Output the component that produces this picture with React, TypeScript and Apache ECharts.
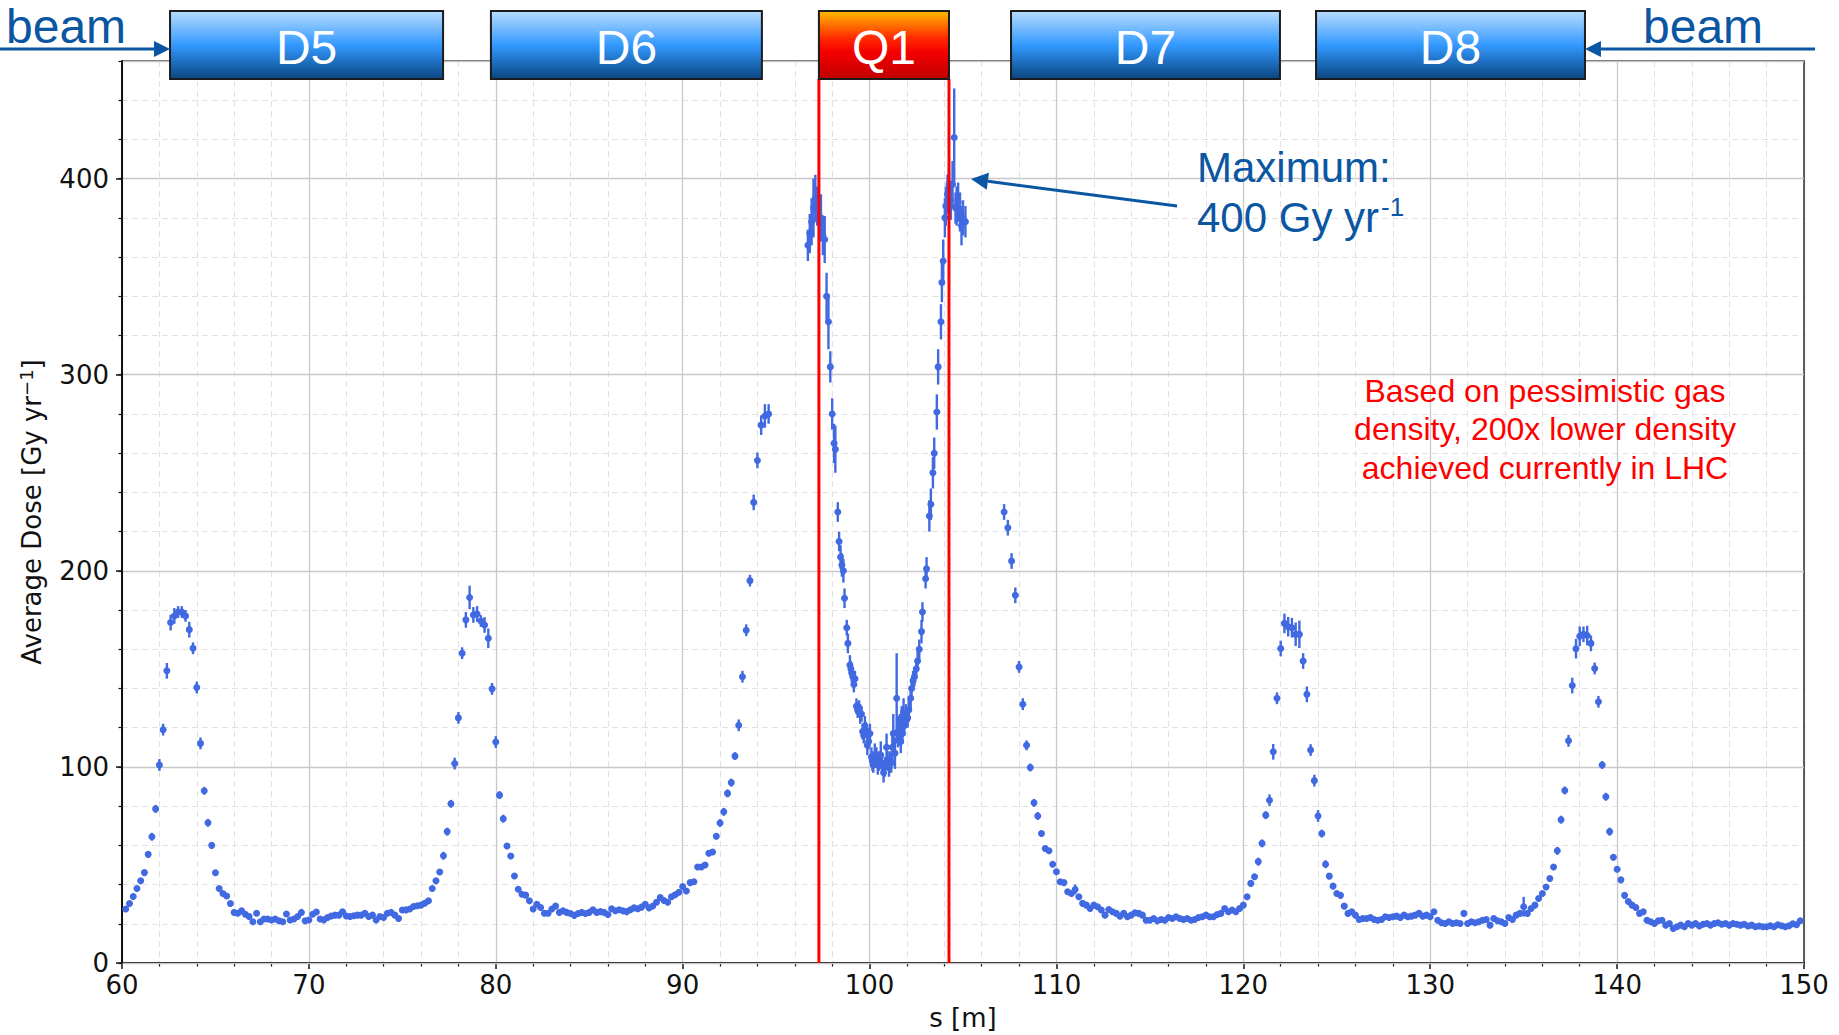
import React, { useEffect, useRef } from 'react';
import * as echarts from 'echarts';

const W = 1839;
const H = 1035;

// ---------- axes ----------
const X_MIN = 60;
const X_MAX = 150;
const X_INTERVAL = 10;
const Y_MIN = 0;
const Y_MAX = 460;
const Y_INTERVAL = 100;
const Y_MINOR_INTERVAL = 20;

// ---------- data: dose per 0.2 m bin, upstream of Q1 (s = 60.2 ... 94.6) ----------
const BIN_STEP = 0.2;
const upstreamStart = 60.2;
const upstreamDose = [
  27.5, 30.3, 33.9, 38, 41.9, 46.1, 55.4, 64.4, 78.6, 101,
  119, 149, 173.6, 177, 179, 179, 177, 170, 160.5, 140.5,
  112, 87.8, 71.5, 60, 46, 38, 35.4, 34.2, 30.3, 25.8,
  25.4, 26.6, 24.9, 23.7, 21, 25.4, 21, 22.4, 22.4, 21.9,
  22.4, 21.5, 21, 25, 21.9, 22.4, 23.7, 25.8, 21.5, 21.9,
  24.9, 26, 22.4, 22, 23.2, 24, 24.4, 24.4, 26.1, 24,
  23.7, 24.1, 24.4, 24.4, 25.4, 23.7, 24.4, 21.9, 23.7, 23.2,
  25.4, 25.8, 24.4, 22.7, 27, 27.1, 27.5, 28.8, 29.2, 29.5,
  30.5, 31.7, 38, 41.9, 46.4, 54.7, 67, 81.2, 101.7, 125,
  158, 175, 186.4, 177.5, 178, 174.4, 172.4, 165.6, 139.8, 112.7,
  85.6, 73.6, 59.7, 54.6, 44.4, 37.6, 35.1, 34.6, 31.7, 27.5,
  30, 28.3, 25.4, 25.4, 27.5, 29, 25.8, 26.6, 25.8, 25.2,
  24.3, 25.2, 25.8, 25.2, 25.8, 27.2, 25.8, 26.2, 25.8, 24.7,
  27.7, 26.6, 27.2, 26.6, 26.2, 27.2, 28.1, 27.7, 28.5, 30,
  28.1, 29.1, 31, 33.4, 31.9, 31, 33.8, 34.8, 36.1, 39,
  36.7, 41, 41.4, 49, 49, 50, 56, 56.6, 64.6, 71.4,
  77.1, 86.5, 92, 105.5, 121.2, 146, 169.7, 195, 234.9, 256.3,
  274.3, 279, 280,
];
const upstreamErr = [
  1, 1, 1, 1, 1, 1, 1.5, 2, 2, 3,
  3, 4, 4, 4, 3, 3, 3, 4, 3, 3,
  3, 2, 2, 1.5, 1.5, 1, 1, 1, 1, 1,
  1, 1, 1, 1, 1, 1, 1, 1, 1, 1,
  1, 1, 1, 1.5, 1, 1, 1, 1.5, 1, 1,
  1, 1, 1, 1, 1, 1, 1, 1, 1, 1,
  1, 1, 1, 1, 1, 1, 1, 1, 1, 1,
  1, 1, 1, 1, 1, 1, 1, 1, 1, 1,
  1, 1, 1, 1.5, 1.5, 2, 2, 2, 3, 3,
  3, 4, 6, 4, 4, 3, 4, 5, 3, 3,
  2, 2, 1.5, 1.5, 1, 1, 1, 1, 1, 1,
  1, 1, 1, 1, 1, 1, 1, 1, 1, 1,
  1, 1, 1, 1, 1, 1, 1, 1, 1, 1,
  1, 1, 1, 1, 1, 1, 1, 1, 1, 1,
  1, 1, 1, 1, 1, 1, 1, 1, 1, 1,
  1, 1, 1, 1.5, 1.5, 1.5, 1.5, 1.5, 1.5, 2,
  2, 2, 2, 2, 3, 3, 3, 3, 4, 4,
  5, 6, 5,
];

// ---------- data: inside Q1 (finer sampling) ----------
const q1S = [
  96.7, 96.8, 96.9, 97.0, 97.1, 97.2, 97.3, 97.4, 97.5, 97.6, 97.7, 97.8, 97.9, 98.0, 98.1, 98.17,
  98.3, 98.37, 98.45, 98.52, 98.6, 98.66, 98.78, 98.84, 98.95, 99.0, 99.05, 99.1, 99.16, 99.22,
  99.3, 99.36, 99.44, 99.5, 99.57, 99.63, 99.69, 99.75, 99.8, 99.88, 99.95, 100.02,
  100.1, 100.15, 100.2, 100.28, 100.37, 100.44, 100.5, 100.6, 100.66, 100.75, 100.82, 100.91, 100.97, 101.04,
  101.1, 101.16, 101.22, 101.27, 101.36, 101.45, 101.52, 101.57, 101.62, 101.67, 101.72, 101.76, 101.82, 101.86, 101.95,
  102.04, 102.1, 102.2, 102.25, 102.33, 102.4, 102.5, 102.57, 102.66, 102.78, 102.83, 103.0, 103.05,
  103.2, 103.28, 103.39, 103.46, 103.6, 103.67, 103.82, 103.87, 103.94, 104.03, 104.08, 104.17, 104.25,
  104.35, 104.44, 104.53, 104.6, 104.66, 104.74, 104.84, 104.92, 105.0, 105.13,
];
const q1Dose = [
  366, 372, 378, 385, 390, 386, 378, 380, 371, 369, 340, 327, 304, 280, 265, 262,
  230, 215, 207, 203, 200, 186, 171, 163, 152, 150, 148, 146, 142, 145,
  131, 129, 130, 127, 127, 118, 116, 121, 119, 111, 113, 117,
  105, 103, 101, 106, 105, 101, 103, 106, 102, 97, 100, 110, 103, 100,
  104, 102, 110, 117, 107, 135, 118, 117, 119, 113, 124, 117, 128, 121, 126,
  125, 129, 135, 140, 144, 146, 150, 154, 160, 169, 179, 196, 201,
  228, 234, 250, 260, 281, 304, 327, 347, 358, 380, 386, 392, 397,
  389, 397, 421, 385, 386, 388, 383, 376, 380, 378,
];
const q1Err = [
  8, 10, 12, 15, 12, 10, 10, 12, 10, 12, 12, 14, 8, 8, 10, 12,
  5, 5, 6, 6, 6, 5, 4, 5, 5, 4, 5, 4, 4, 4,
  4, 4, 4, 5, 4, 4, 4, 5, 4, 5, 4, 5,
  5, 5, 4, 6, 5, 5, 5, 7, 4, 5, 5, 7, 5, 5,
  4, 5, 7, 10, 8, 23, 8, 6, 8, 6, 7, 5, 7, 5, 6,
  5, 6, 6, 5, 5, 5, 5, 5, 5, 6, 5, 5, 6,
  8, 8, 8, 8, 9, 9, 9, 10, 11, 10, 10, 10, 8,
  10, 12, 25, 8, 10, 10, 10, 10, 9, 8,
];

// ---------- data: dose per 0.2 m bin, downstream of Q1 (s = 107.2 ... 149.8) ----------
const downstreamStart = 107.2;
const downstreamDose = [
  230, 222, 205, 187.5, 151, 132, 111, 99.7, 81.7, 75,
  66, 58.4, 57.2, 50.4, 46.5, 41.4, 41, 36.3, 35.4, 37.5,
  33.8, 30.4, 29.5, 27.8, 29.5, 28.7, 27, 24.4, 27.3, 26.1,
  25.3, 23.9, 25.3, 23.6, 24.4, 25.6, 25.3, 24.4, 21.8, 21.8,
  22.7, 21.5, 22.2, 21.8, 23.2, 22.7, 23.6, 22.7, 22.2, 22.7,
  21.8, 22.2, 23.2, 23.6, 24.4, 23.6, 23.6, 24.7, 25.3, 27.8,
  26.1, 27, 26.1, 27.8, 29.5, 33.8, 40.6, 44, 51.7, 61,
  75.4, 83, 107.7, 135, 160.4, 173.2, 171.5, 171, 167.6, 167.6,
  154, 137, 108.6, 93, 75, 66, 50.4, 44.3, 39.2, 35.4,
  34.5, 29, 25.3, 26.1, 24.4, 22.2, 22.7, 22.7, 23.2, 22.2,
  21.8, 22.2, 23.6, 23.2, 23.6, 23.9, 23.2, 24.4, 23.6, 23.9,
  24.4, 25.3, 23.9, 24.4, 23.6, 26.1, 21.8, 20.5, 20.1, 21,
  20.1, 20.5, 20.1, 25.3, 20.1, 21, 20.5, 21, 21.8, 22.2,
  19.3, 22.7, 21.5, 21, 20.1, 23.2, 22.2, 24.4, 25.3, 28.7,
  25.3, 27.8, 29.5, 32.9, 35.4, 38.8, 43.1, 49, 57.2, 73.1,
  88, 113.3, 141.5, 160.3, 166.6, 167.6, 167, 163, 150.2, 133.2,
  101, 84.8, 67, 53.9, 47.8, 42.4, 34.5, 31.4, 29.5, 28.3,
  25.3, 26.1, 21.8, 21, 20.1, 21.5, 21.8, 19.3, 20.1, 17.6,
  18.5, 19.3, 18.5, 20.1, 19.3, 20.1, 18.9, 19.8, 20.1, 19.3,
  20.1, 20.5, 19.8, 20.1, 19.3, 20.1, 19.8, 19.3, 19.8, 18.9,
  19.3, 18.5, 18.9, 18.5, 18.5, 19, 18.5, 19.5, 19, 18.5,
  19, 20, 19.5, 21.5,
];
const downstreamErr = [
  4, 4, 4, 4, 3, 3, 2.5, 2, 2, 2,
  1.5, 1.5, 1, 1, 1, 1, 1, 1, 1, 2.5,
  1, 1, 1, 1, 1, 1, 1, 1, 1, 1,
  1, 1, 1, 1, 1, 1, 1, 1, 1, 1,
  1, 1, 1, 1, 1, 1, 1, 1, 1, 1,
  1, 1, 1, 1, 1, 1, 1, 1, 1, 1,
  1, 1, 1, 1, 1, 1, 1.5, 1.5, 2, 2,
  2, 3, 4, 3, 4, 5, 5, 5, 6, 7,
  4, 4, 3, 3, 3, 2, 2, 1.5, 1, 1,
  1, 1, 1, 1, 1, 1, 1, 1, 1, 1,
  1, 1, 1, 1, 1, 1, 1, 1, 1, 1,
  1, 1, 1, 1, 1, 1, 1, 1, 1, 1,
  1, 1, 1, 1, 1, 1, 1, 1, 1, 1,
  1, 1, 1, 1, 1, 1, 1, 1, 1, 5,
  1, 1, 1, 1, 1, 1, 1, 1.5, 2, 2,
  2, 3, 4, 5, 5, 4, 5, 4, 3, 3,
  2, 2, 2, 1.5, 1.5, 1, 1, 1, 1, 1,
  1, 1, 1, 1, 1, 1, 1, 1, 1, 1,
  1, 1, 1, 1, 1, 1, 1, 1, 1, 1,
  1, 1, 1, 1, 1, 1, 1, 1, 1, 1,
  1, 1, 1, 1, 1, 1, 1, 1, 1, 1,
  1, 1, 1, 1,
];

// ---------- magnet layout (in s [m]) ----------
const magnetNames = ['D5', 'D6', 'Q1', 'D7', 'D8'];
const magnetStart = [62.57, 79.74, 97.29, 107.57, 123.89];
const magnetEnd = [77.18, 94.24, 104.25, 121.96, 138.28];
const magnetKind = ['dipole', 'dipole', 'quad', 'dipole', 'dipole'];

// ---------- texts ----------
const X_TITLE = 's [m]';
const Y_TITLE_MAIN = 'Average Dose [Gy yr';
const Y_TITLE_SUP = '−1';
const NOTE_LINES = ['Based on pessimistic gas', 'density, 200x lower density', 'achieved currently in LHC'];
const MAX_LINE1 = 'Maximum:';
const MAX_LINE2 = '400 Gy yr';
const MAX_SUP = '-1';
const BEAM = 'beam';

// ---------- styles ----------
const BLUE = '#4169e1';
const ANNOT_BLUE = '#0b56a2';
const AXIS_COLOR = '#111111';
const TICK_FONT = 'DejaVu Sans';
const SANS = 'Liberation Sans';

function buildPoints(start: number, values: number[], errs: number[]) {
  return values.map((v, i) => [Math.round((start + i * BIN_STEP) * 10) / 10, v, errs[i]]);
}

function allPoints() {
  const a = buildPoints(upstreamStart, upstreamDose, upstreamErr);
  const b = q1S.map((s, i) => [s, q1Dose[i], q1Err[i]]);
  const c = buildPoints(downstreamStart, downstreamDose, downstreamErr);
  return [...a, ...b, ...c];
}

function buildOption() {
  const pts = allPoints();
  return {
    animation: false,
    backgroundColor: '#ffffff',
    textStyle: { fontFamily: TICK_FONT },
    grid: { left: 122, right: 35, top: 61, bottom: 72, containLabel: false, outerBoundsMode: 'none' },
    xAxis: [
      {
        type: 'value',
        min: X_MIN,
        max: X_MAX,
        interval: X_INTERVAL,
        position: 'bottom',
        axisLine: { show: true, onZero: false, lineStyle: { color: AXIS_COLOR, width: 2 } },
        axisTick: { show: true, inside: false, length: 6, lineStyle: { color: AXIS_COLOR, width: 1.5 } },
        minorTick: { show: true, splitNumber: 5, length: 3.5, lineStyle: { color: AXIS_COLOR, width: 1.2 } },
        axisLabel: { fontSize: 26, fontFamily: TICK_FONT, color: AXIS_COLOR, margin: 9 },
        splitLine: { show: true, lineStyle: { color: '#c8c8c8', width: 1.3 } },
        minorSplitLine: { show: true, lineStyle: { color: '#e2e2e2', width: 1.1, type: [6, 4] } },
        name: X_TITLE,
        nameLocation: 'middle',
        nameGap: 42,
        nameTextStyle: { fontSize: 26, fontFamily: TICK_FONT, color: AXIS_COLOR },
      },
      {
        type: 'value',
        min: X_MIN,
        max: X_MAX,
        position: 'top',
        axisLine: { show: true, onZero: false, lineStyle: { color: '#333333', width: 1.5 } },
        axisTick: { show: false },
        axisLabel: { show: false },
        splitLine: { show: false },
      },
    ],
    yAxis: [
      {
        type: 'value',
        min: Y_MIN,
        max: Y_MAX,
        interval: Y_INTERVAL,
        position: 'left',
        z: 1,
        axisLine: { show: true, onZero: false, lineStyle: { color: AXIS_COLOR, width: 2 } },
        axisTick: { show: true, inside: false, length: 6, lineStyle: { color: AXIS_COLOR, width: 1.5 } },
        axisLabel: { fontSize: 26, fontFamily: TICK_FONT, color: AXIS_COLOR, margin: 13, showMaxLabel: false },
        splitLine: { show: true, lineStyle: { color: '#c8c8c8', width: 1.3 } },
        name: Y_TITLE_MAIN + '{sup|' + Y_TITLE_SUP + '}]',
        nameLocation: 'middle',
        nameRotate: 90,
        nameGap: 75,
        nameTextStyle: {
          fontSize: 26,
          fontFamily: TICK_FONT,
          color: AXIS_COLOR,
          lineHeight: 30,
          rich: {
            sup: { fontSize: 18, fontFamily: TICK_FONT, color: AXIS_COLOR, verticalAlign: 'top', lineHeight: 18 },
          },
        },
      },
      {
        type: 'value',
        min: Y_MIN,
        max: Y_MAX,
        interval: Y_MINOR_INTERVAL,
        position: 'left',
        z: 0,
        axisLine: { show: false },
        axisTick: { show: true, inside: false, length: 3.5, lineStyle: { color: AXIS_COLOR, width: 1.2 } },
        axisLabel: { show: false },
        splitLine: { show: true, lineStyle: { color: '#e2e2e2', width: 1.1, type: [6, 4] } },
      },
      {
        type: 'value',
        min: Y_MIN,
        max: Y_MAX,
        position: 'right',
        axisLine: { show: true, onZero: false, lineStyle: { color: '#333333', width: 1.5 } },
        axisTick: { show: false },
        axisLabel: { show: false },
        splitLine: { show: false },
      },
    ],
    series: [
      {
        type: 'custom',
        name: 'error',
        xAxisIndex: 0,
        yAxisIndex: 0,
        silent: true,
        z: 3,
        data: pts,
        encode: { x: 0, y: 1 },
        renderItem: (params: any, api: any) => {
          const s = api.value(0);
          const v = api.value(1);
          const e = api.value(2);
          const lo = api.coord([s, v - e]);
          const hi = api.coord([s, v + e]);
          return {
            type: 'line',
            shape: { x1: lo[0], y1: lo[1], x2: hi[0], y2: hi[1] },
            style: { stroke: BLUE, lineWidth: 2.4 },
          };
        },
      },
      {
        type: 'scatter',
        name: 'dose',
        xAxisIndex: 0,
        yAxisIndex: 0,
        silent: true,
        z: 4,
        symbol: 'circle',
        symbolSize: 7,
        itemStyle: { color: BLUE, opacity: 1 },
        data: pts.map((p) => [p[0], p[1]]),
      },
    ],
  };
}

function textStyle(text: string, size: number, fill: string, align: string, vAlign: string, extra: any = {}) {
  return {
    text,
    fontSize: size,
    fontFamily: SANS,
    fill,
    align,
    verticalAlign: vAlign,
    textAlign: align,
    textVerticalAlign: vAlign,
    ...extra,
  };
}

function arrowHead(tipX: number, tipY: number, fromX: number, fromY: number, len: number, half: number) {
  const dx = fromX - tipX;
  const dy = fromY - tipY;
  const d = Math.sqrt(dx * dx + dy * dy);
  const ux = dx / d;
  const uy = dy / d;
  const bx = tipX + ux * len;
  const by = tipY + uy * len;
  return {
    base: [bx, by],
    points: [
      [tipX, tipY],
      [bx - uy * half, by + ux * half],
      [bx + uy * half, by - ux * half],
    ],
  };
}

function buildGraphic(chart: any) {
  const px = (s: number) => chart.convertToPixel({ xAxisIndex: 0 }, s) as number;
  const py = (v: number) => chart.convertToPixel({ yAxisIndex: 0 }, v) as number;
  const BOX_TOP = 11;
  const BOX_BOTTOM = 79;
  const els: any[] = [];

  const dipoleFill = {
    type: 'linear', x: 0, y: 0, x2: 0, y2: 1,
    colorStops: [
      { offset: 0, color: '#b8ddff' },
      { offset: 0.5, color: '#3399ff' },
      { offset: 1, color: '#0a4580' },
    ],
  };
  const quadFill = {
    type: 'linear', x: 0, y: 0, x2: 0, y2: 1,
    colorStops: [
      { offset: 0, color: '#ffbb00' },
      { offset: 0.4, color: '#ff2a00' },
      { offset: 0.6, color: '#f50000' },
      { offset: 1, color: '#c00000' },
    ],
  };

  // red Q1 boundaries
  const qi = magnetKind.indexOf('quad');
  [magnetStart[qi], magnetEnd[qi]].forEach((s) => {
    const x = px(s);
    els.push({
      type: 'line',
      z: 60,
      silent: true,
      shape: { x1: x, y1: BOX_BOTTOM, x2: x, y2: py(0) },
      style: { stroke: '#ff0000', lineWidth: 3 },
    });
  });

  // magnets
  magnetNames.forEach((name, i) => {
    const x0 = px(magnetStart[i]);
    const x1 = px(magnetEnd[i]);
    els.push({
      type: 'rect',
      z: 100,
      silent: true,
      shape: { x: x0, y: BOX_TOP, width: x1 - x0, height: BOX_BOTTOM - BOX_TOP },
      style: { fill: magnetKind[i] === 'quad' ? quadFill : dipoleFill, stroke: '#1c1c1c', lineWidth: 2 },
    });
    els.push({
      type: 'text',
      z: 101,
      silent: true,
      x: (x0 + x1) / 2,
      y: 47,
      style: textStyle(name, 48, '#ffffff', 'center', 'middle'),
    });
  });

  // beam arrows
  const leftHead = arrowHead(px(magnetStart[0]), 49, 0, 49, 16, 8);
  els.push({ type: 'line', z: 100, silent: true, shape: { x1: 0, y1: 49, x2: leftHead.base[0], y2: 49 }, style: { stroke: ANNOT_BLUE, lineWidth: 3 } });
  els.push({ type: 'polygon', z: 100, silent: true, shape: { points: leftHead.points }, style: { fill: ANNOT_BLUE } });
  els.push({ type: 'text', z: 100, silent: true, x: 6, y: 26, style: textStyle(BEAM, 48, ANNOT_BLUE, 'left', 'middle') });

  const rightHead = arrowHead(px(magnetEnd[4]), 49, 1815, 49, 16, 8);
  els.push({ type: 'line', z: 100, silent: true, shape: { x1: rightHead.base[0], y1: 49, x2: 1815, y2: 49 }, style: { stroke: ANNOT_BLUE, lineWidth: 3 } });
  els.push({ type: 'polygon', z: 100, silent: true, shape: { points: rightHead.points }, style: { fill: ANNOT_BLUE } });
  els.push({ type: 'text', z: 100, silent: true, x: 1643, y: 26, style: textStyle(BEAM, 48, ANNOT_BLUE, 'left', 'middle') });

  // maximum annotation
  const tipX = 971;
  const tipY = 179;
  const tailX = 1177;
  const tailY = 206;
  const mh = arrowHead(tipX, tipY, tailX, tailY, 17, 8.5);
  els.push({ type: 'line', z: 100, silent: true, shape: { x1: mh.base[0], y1: mh.base[1], x2: tailX, y2: tailY }, style: { stroke: ANNOT_BLUE, lineWidth: 3 } });
  els.push({ type: 'polygon', z: 100, silent: true, shape: { points: mh.points }, style: { fill: ANNOT_BLUE } });
  els.push({ type: 'text', z: 100, silent: true, x: 1197, y: 167, style: textStyle(MAX_LINE1, 42, ANNOT_BLUE, 'left', 'middle') });
  els.push({ type: 'text', z: 100, silent: true, x: 1197, y: 217, style: textStyle(MAX_LINE2, 42, ANNOT_BLUE, 'left', 'middle') });
  els.push({ type: 'text', z: 100, silent: true, x: 1381, y: 207, style: textStyle(MAX_SUP, 26, ANNOT_BLUE, 'left', 'middle') });

  // red note
  els.push({
    type: 'text',
    z: 100,
    silent: true,
    x: 1545,
    y: 429,
    style: textStyle(NOTE_LINES.join('\n'), 32, '#ff0000', 'center', 'middle', { lineHeight: 38.5 }),
  });

  return els;
}

export default function App() {
  const ref = useRef<HTMLDivElement>(null);
  useEffect(() => {
    if (!ref.current) return;
    const chart = echarts.init(ref.current, null, { renderer: 'svg', width: W, height: H });
    chart.setOption(buildOption() as any);
    chart.setOption({ graphic: buildGraphic(chart) } as any);
    return () => {
      chart.dispose();
    };
  }, []);
  return (
    <div
      ref={ref}
      style={{ position: 'absolute', left: 0, top: 0, width: W, height: H, background: '#ffffff' }}
    />
  );
}
